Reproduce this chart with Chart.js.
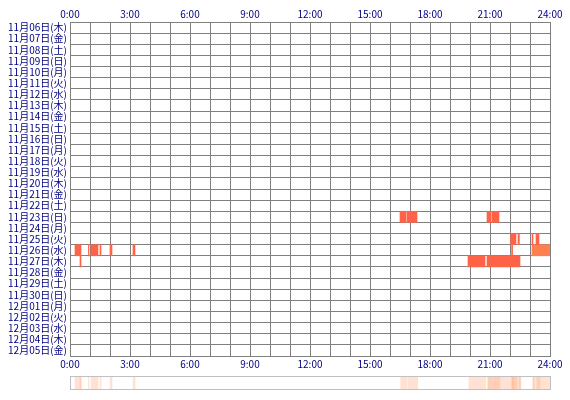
<!DOCTYPE html>
<html><head><meta charset="utf-8">
<script src="https://cdn.jsdelivr.net/npm/chart.js@4"></script>
<style>
body{margin:0;background:#fff;}
#wrap{position:absolute;left:0;top:0;width:570px;height:400px;}
#strip{position:absolute;left:70px;top:376px;width:481px;height:14px;}
</style></head>
<body>
<div id="wrap"><canvas id="main"></canvas></div>
<div id="strip"><canvas id="sum"></canvas></div>
<script>
const days = ["11月06日(木)","11月07日(金)","11月08日(土)","11月09日(日)","11月10日(月)","11月11日(火)","11月12日(水)","11月13日(木)","11月14日(金)","11月15日(土)","11月16日(日)","11月17日(月)","11月18日(火)","11月19日(水)","11月20日(木)","11月21日(金)","11月22日(土)","11月23日(日)","11月24日(月)","11月25日(火)","11月26日(水)","11月27日(木)","11月28日(金)","11月29日(土)","11月30日(日)","12月01日(月)","12月02日(火)","12月03日(水)","12月04日(木)","12月05日(金)"];
const hourTicks = ["0:00","3:00","6:00","9:00","12:00","15:00","18:00","21:00","24:00"];
// sessions: [day label, start hour, end hour]
const sessions23 = [["11月23日(日)",16.5,16.8],["11月23日(日)",16.85,17.35],["11月23日(日)",20.85,21.05],["11月23日(日)",21.1,21.45]];
const sessions25 = [["11月25日(火)",22.03,22.3],["11月25日(火)",22.4,22.47],["11月25日(火)",23.1,23.15],["11月25日(火)",23.3,23.45]];
const sessions26 = [["11月26日(水)",0.25,0.55],["11月26日(水)",0.92,0.95],["11月26日(水)",1.05,1.4],["11月26日(水)",1.5,1.55],["11月26日(水)",2.0,2.1],["11月26日(水)",3.15,3.25],["11月26日(水)",22.08,22.13]];
const sessions26b = [["11月26日(水)",23.1,24]];
const sessions27 = [["11月27日(木)",0.5,0.55],["11月27日(木)",19.9,20.75],["11月27日(木)",20.85,22.5]];

const red = sessions23.concat(sessions25, sessions26, sessions27);
const toPts = a => a.map(s => ({y: s[0], x: [s[1], s[2]]}));
const navy = "#000080";
const font = {family: "'Noto Sans CJK JP', sans-serif", size: 10};

new Chart(document.getElementById("main"), {
  type: "bar",
  data: {
    labels: days,
    datasets: [
      {data: toPts(red), backgroundColor: "#ff6347", grouped: false, barPercentage: 1, categoryPercentage: 1},
      {data: toPts(sessions26b), backgroundColor: "#ff7f50", grouped: false, barPercentage: 1, categoryPercentage: 1}
    ]
  },
  options: {
    indexAxis: "y",
    responsive: true,
    maintainAspectRatio: false,
    animation: false,
    layout: {padding: {right: 20}},
    plugins: {legend: {display: false}, tooltip: {enabled: false}},
    scales: {
      x: {
        position: "top", min: 0, max: 24,
        afterFit: s => { s.height = 22; },
        ticks: {stepSize: 1, autoSkip: false, maxRotation: 0, color: navy, font: font, padding: 2,
          callback: v => v % 3 === 0 ? hourTicks[v / 3] : ""},
        grid: {color: "#808080", lineWidth: 1, drawTicks: false},
        border: {color: "#808080"}
      },
      x2: {
        position: "bottom", min: 0, max: 24, axis: "x",
        afterFit: s => { s.height = 44; },
        ticks: {stepSize: 1, autoSkip: false, maxRotation: 0, color: navy, font: font, padding: 2,
          callback: v => v % 3 === 0 ? hourTicks[v / 3] : ""},
        grid: {drawOnChartArea: false, drawTicks: false},
        border: {color: "#808080"}
      },
      y: {
        afterFit: s => { s.width = 70; },
        ticks: {color: navy, font: {family: "'Noto Sans CJK JP', sans-serif", size: 10}, autoSkip: false, padding: 3},
        grid: {color: "#808080", lineWidth: 1, offset: true, drawTicks: false},
        border: {color: "#808080"}
      }
    }
  }
});

// summary strip: every session, faint
const all = red.concat(sessions26b);
new Chart(document.getElementById("sum"), {
  type: "bar",
  data: {
    labels: ["all"],
    datasets: all.map(s => ({data: [[s[1], s[2]]], backgroundColor: "rgba(255,160,110,0.3)", grouped: false, barPercentage: 1, categoryPercentage: 1}))
  },
  options: {
    indexAxis: "y", responsive: true, maintainAspectRatio: false, animation: false,
    layout: {padding: 0},
    plugins: {legend: {display: false}, tooltip: {enabled: false}},
    scales: {
      x: {display: false, min: 0, max: 24},
      y: {display: false}
    }
  },
  plugins: [{id: "frame", afterDraw(c) {
    const g = c.ctx; g.save(); g.strokeStyle = "#c0c0c0"; g.lineWidth = 1;
    g.strokeRect(0.5, 0.5, c.width / (window.devicePixelRatio || 1) - 1, c.height / (window.devicePixelRatio || 1) - 1); g.restore();
  }}]
});
</script>
</body></html>
